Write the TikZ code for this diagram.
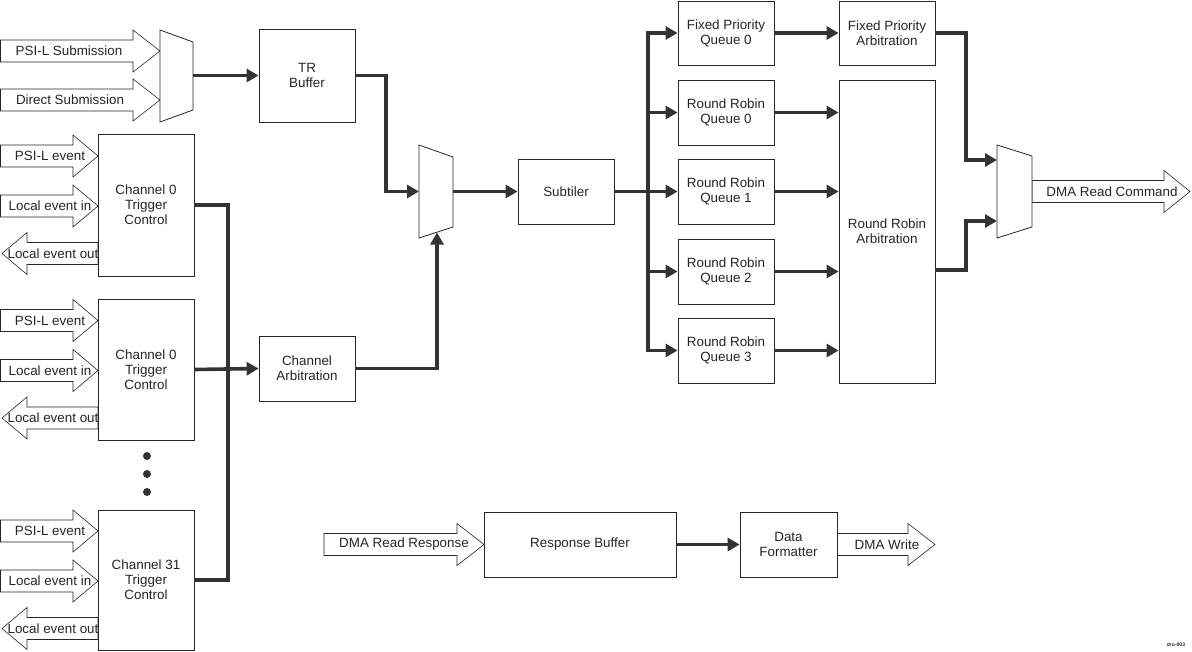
\documentclass[tikz,border=0pt]{standalone}
\usepackage{fontspec}
\setmainfont{Liberation Sans}
\usetikzlibrary{arrows.meta}
\newcommand\fs{\fontsize{13.4}{15}\selectfont}
\newcommand\harR[7]{%
  \draw[hollow] (#2,#5-11) -- (#3,#5-11) -- (#3,#5-21) -- (#4,#5) -- (#3,#5+21) -- (#3,#5+11) -- (#2,#5+11) -- cycle;
  \node[lbl] (#1) at (#6,#5) {#7};}
\newcommand\harL[7]{%
  \draw[hollow] (#4,#5-11) -- (#3,#5-11) -- (#3,#5-21) -- (#2,#5) -- (#3,#5+21) -- (#3,#5+11) -- (#4,#5+11) -- cycle;
  \node[lbl] (#1) at (#6,#5) {#7};}
\tikzset{
  box/.style={draw=black!85, line width=0.8pt, fill=white, align=center, font=\fs, text=black!85, inner sep=0pt, minimum width=96pt},
  wire/.style={draw=black!80, line width=3.6pt},
  arr/.style={wire, -{Triangle[length=12pt,width=13pt]}},
  hollow/.style={draw=black!85, line width=0.6pt, fill=white},
  lbl/.style={font=\fs, text=black!85, inner sep=0pt},
  mux/.style={draw=black!85, line width=0.8pt, fill=white},
}
\begin{document}
\begin{tikzpicture}[x=1pt,y=-1pt]
\useasboundingbox (0,0) rectangle (1192,651);

% ---- input hollow arrows (top left)
\harR{psis}{0.5}{133}{160}{51}{69}{PSI-L Submission}
\harR{dirs}{0.5}{133}{160}{100}{70}{Direct Submission}

% ---- channel event arrows
\foreach \o/\n in {0/a,164.5/b,375/c}{
  \harR{psie\n}{0.5}{73}{98}{156+\o}{50}{PSI-L event}
  \harR{lei\n}{0.5}{73}{98}{206+\o}{50}{Local event in}
  \harL{leo\n}{2}{27}{98}{253.5+\o}{53}{Local event out}
}

% ---- output / bottom hollow arrows
\harR{dmarc}{1032}{1164}{1190}{191.5}{1112}{DMA Read Command}
\harR{dmarr}{324}{457}{484}{544.5}{404}{DMA Read Response}
\harR{dmaw}{837}{908}{935}{544.5}{887}{DMA Write}

% ---- muxes
\draw[mux] (160,30) -- (193,42) -- (193,110) -- (160,122) -- cycle;
\coordinate (m1out) at (193,75.5);
\draw[mux] (419,145) -- (453,157) -- (453,227) -- (419,238) -- cycle;
\coordinate (m2in) at (419,191.5);
\coordinate (m2bot) at (437,232.5);
\coordinate (m2out) at (453,191.5);
\draw[mux] (997,145) -- (1032,156) -- (1032,227) -- (997,238) -- cycle;
\coordinate (m3a) at (997,160);
\coordinate (m3b) at (997,221);

% ---- boxes
\node[box, minimum height=93pt] (tr) at (307,75.5) {TR\\Buffer};
\node[box, minimum height=65pt] (subt) at (566,191.5) {Subtiler};
\node[box, minimum height=64pt] (fpq) at (726,33) {Fixed Priority\\Queue 0};
\node[box, minimum height=65pt] (rrq0) at (726,112.5) {Round Robin\\Queue 0};
\node[box, minimum height=65pt] (rrq1) at (726,191.5) {Round Robin\\Queue 1};
\node[box, minimum height=65pt] (rrq2) at (726,271.5) {Round Robin\\Queue 2};
\node[box, minimum height=65pt] (rrq3) at (726,350.5) {Round Robin\\Queue 3};
\node[box, minimum height=64pt] (fpa) at (887,33) {Fixed Priority\\Arbitration};
\node[box, minimum height=303pt] (rra) at (887,231.5) {Round Robin\\Arbitration};
\node[box, minimum height=142pt] (ch0) at (146,205) {Channel 0\\Trigger\\Control};
\node[box, minimum height=141pt] (ch1) at (146,369.5) {Channel 0\\Trigger\\Control};
\node[box, minimum height=140pt] (ch31) at (146,580) {Channel 31\\Trigger\\Control};
\node[box, minimum height=65pt] (carb) at (307,368.5) {Channel\\Arbitration};
\node[box, minimum height=65pt, minimum width=192pt] (resp) at (580,544.5) {Response Buffer};
\node[box, minimum height=65pt, minimum width=97pt] (fmt) at (788.5,544.5) {Data\\Formatter};

% ---- dots
\foreach \yy in {456,474,492} \fill[black!80] (147,\yy) circle (4pt);

% ---- wires
\draw[arr] (m1out) -- (tr.west);
\draw[arr] (tr.east) -- (386,75.5) |- (m2in);
\draw[arr] (m2out) -- (subt.west);
\coordinate (bus) at (648,191.5);
\foreach \q in {fpq,rrq0,rrq2,rrq3}
  \draw[arr] (subt.east) -- (bus) |- (\q.west);
\draw[arr] (subt.east) -- (rrq1.west);
\draw[arr] (fpq.east) -- (fpa.west);
\foreach \q in {rrq0,rrq1,rrq2,rrq3}
  \draw[arr] (\q.east) -- (\q.east -| rra.west);
\coordinate (rraout) at (935,270);
\draw[arr] (fpa.east) -- (966,33) |- (m3a);
\draw[arr] (rraout) -- (966,270) |- (m3b);

\draw[wire] (ch0.east) -- (228,205) -- (228,580) -- (ch31.east);
\draw[arr] (ch1.east) -- (carb.west);
\draw[arr] (carb.east) -- (437,368.5) -- (m2bot);

\draw[arr] (resp.east) -- (fmt.west);

% ---- id label
\node[font=\fontsize{5}{6}\selectfont\bfseries, text=black!85, inner sep=0pt] (id) at (1176,645) {dru-003};
\end{tikzpicture}
\end{document}
